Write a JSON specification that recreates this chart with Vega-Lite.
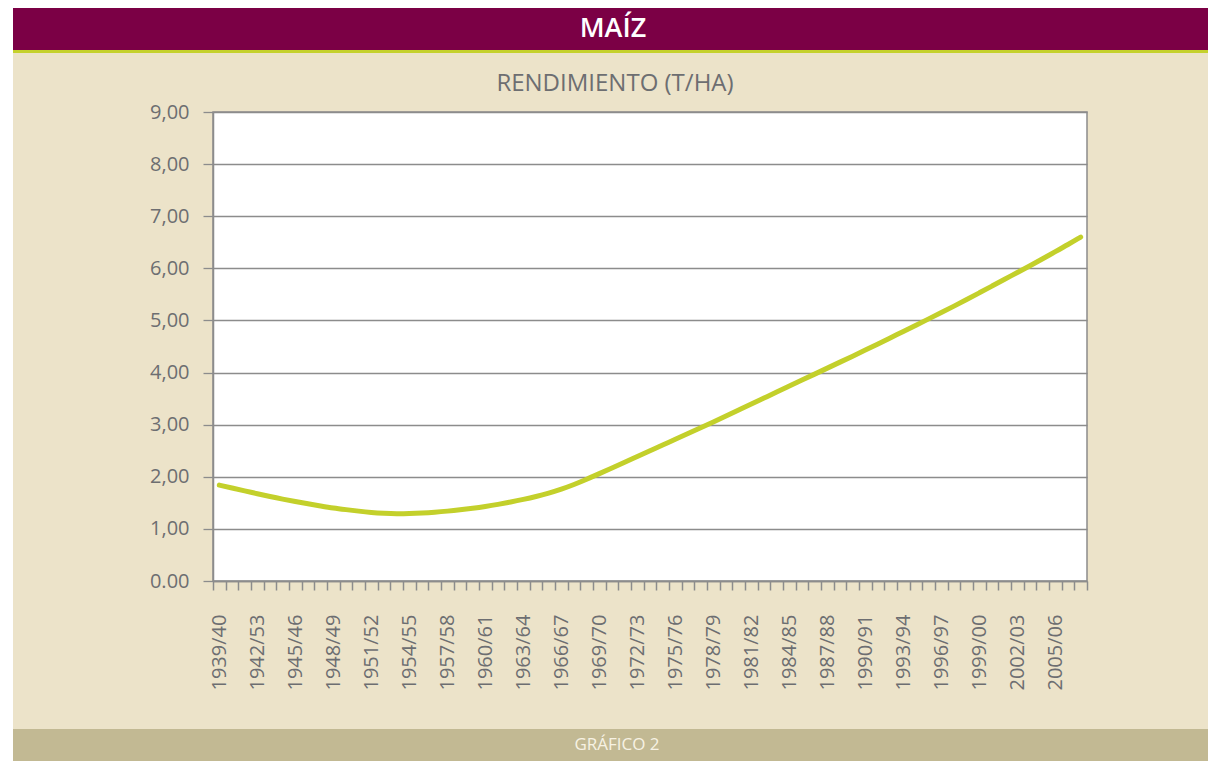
{
  "$schema": "https://vega.github.io/schema/vega-lite/v6.json",
  "background": "#ece3c9",
  "padding": 0,
  "columns": 3,
  "spacing": 0,
  "bounds": "flush",
  "align": "each",
  "config": {
    "view": {"stroke": null},
    "concat": {"spacing": 0},
    "text": {"font": "Open Sans"}
  },
  "datasets": {
    "maiz": [
      {"campana": "1939/40", "rendimiento": 1.84},
      {"campana": "1940/41", "rendimiento": 1.785},
      {"campana": "1941/42", "rendimiento": 1.73},
      {"campana": "1942/53", "rendimiento": 1.675},
      {"campana": "1943/44", "rendimiento": 1.62},
      {"campana": "1944/45", "rendimiento": 1.57},
      {"campana": "1945/46", "rendimiento": 1.525},
      {"campana": "1946/47", "rendimiento": 1.48},
      {"campana": "1947/48", "rendimiento": 1.44},
      {"campana": "1948/49", "rendimiento": 1.40},
      {"campana": "1949/50", "rendimiento": 1.37},
      {"campana": "1950/51", "rendimiento": 1.34},
      {"campana": "1951/52", "rendimiento": 1.315},
      {"campana": "1952/53", "rendimiento": 1.30},
      {"campana": "1953/54", "rendimiento": 1.29},
      {"campana": "1954/55", "rendimiento": 1.295},
      {"campana": "1955/56", "rendimiento": 1.305},
      {"campana": "1956/57", "rendimiento": 1.32},
      {"campana": "1957/58", "rendimiento": 1.34},
      {"campana": "1958/59", "rendimiento": 1.365},
      {"campana": "1959/60", "rendimiento": 1.395},
      {"campana": "1960/61", "rendimiento": 1.43},
      {"campana": "1961/62", "rendimiento": 1.47},
      {"campana": "1962/63", "rendimiento": 1.515},
      {"campana": "1963/64", "rendimiento": 1.565},
      {"campana": "1964/65", "rendimiento": 1.62},
      {"campana": "1965/66", "rendimiento": 1.685},
      {"campana": "1966/67", "rendimiento": 1.76},
      {"campana": "1967/68", "rendimiento": 1.85},
      {"campana": "1968/69", "rendimiento": 1.95},
      {"campana": "1969/70", "rendimiento": 2.06},
      {"campana": "1970/71", "rendimiento": 2.17},
      {"campana": "1971/72", "rendimiento": 2.28},
      {"campana": "1972/73", "rendimiento": 2.39},
      {"campana": "1973/74", "rendimiento": 2.50},
      {"campana": "1974/75", "rendimiento": 2.61},
      {"campana": "1975/76", "rendimiento": 2.72},
      {"campana": "1976/77", "rendimiento": 2.83},
      {"campana": "1977/78", "rendimiento": 2.94},
      {"campana": "1978/79", "rendimiento": 3.05},
      {"campana": "1979/80", "rendimiento": 3.165},
      {"campana": "1980/81", "rendimiento": 3.28},
      {"campana": "1981/82", "rendimiento": 3.395},
      {"campana": "1982/83", "rendimiento": 3.51},
      {"campana": "1983/84", "rendimiento": 3.625},
      {"campana": "1984/85", "rendimiento": 3.74},
      {"campana": "1985/86", "rendimiento": 3.855},
      {"campana": "1986/87", "rendimiento": 3.97},
      {"campana": "1987/88", "rendimiento": 4.085},
      {"campana": "1988/89", "rendimiento": 4.20},
      {"campana": "1989/90", "rendimiento": 4.315},
      {"campana": "1990/91", "rendimiento": 4.43},
      {"campana": "1991/92", "rendimiento": 4.55},
      {"campana": "1992/93", "rendimiento": 4.67},
      {"campana": "1993/94", "rendimiento": 4.79},
      {"campana": "1994/95", "rendimiento": 4.91},
      {"campana": "1995/96", "rendimiento": 5.03},
      {"campana": "1996/97", "rendimiento": 5.15},
      {"campana": "1997/98", "rendimiento": 5.275},
      {"campana": "1998/99", "rendimiento": 5.40},
      {"campana": "1999/00", "rendimiento": 5.53},
      {"campana": "2000/01", "rendimiento": 5.66},
      {"campana": "2001/02", "rendimiento": 5.79},
      {"campana": "2002/03", "rendimiento": 5.92},
      {"campana": "2003/04", "rendimiento": 6.05},
      {"campana": "2004/05", "rendimiento": 6.185},
      {"campana": "2005/06", "rendimiento": 6.32},
      {"campana": "2006/07", "rendimiento": 6.455},
      {"campana": "2007/08", "rendimiento": 6.60}
    ],
    "cabecera": [{"texto": "MAÍZ"}],
    "titulo": [{"texto": "RENDIMIENTO (T/HA)"}],
    "pie": [{"texto": "GRÁFICO 2"}],
    "vacio": [{"texto": ""}]
  },
  "concat": [
    {"width": 13, "height": 8, "view": {"fill": "#ffffff", "stroke": null}, "data": {"name": "vacio"}, "mark": {"type": "text", "fontSize": 0}, "encoding": {"text": {"field": "texto"}}},
    {"width": 200, "height": 8, "view": {"fill": "#ffffff", "stroke": null}, "data": {"name": "vacio"}, "mark": {"type": "text", "fontSize": 0}, "encoding": {"text": {"field": "texto"}}},
    {"width": 995, "height": 8, "view": {"fill": "#ffffff", "stroke": null}, "data": {"name": "vacio"}, "mark": {"type": "text", "fontSize": 0}, "encoding": {"text": {"field": "texto"}}},

    {"width": 13, "height": 42, "view": {"fill": "#ffffff", "stroke": null}, "data": {"name": "vacio"}, "mark": {"type": "text", "fontSize": 0}, "encoding": {"text": {"field": "texto"}}},
    {"width": 200, "height": 42, "view": {"fill": "#7b0045", "stroke": null}, "data": {"name": "vacio"}, "mark": {"type": "text", "fontSize": 0}, "encoding": {"text": {"field": "texto"}}},
    {
      "width": 995,
      "height": 42,
      "view": {"fill": "#7b0045", "stroke": null},
      "data": {"name": "cabecera"},
      "mark": {"type": "text", "align": "center", "baseline": "middle", "font": "Open Sans", "fontSize": 27, "fontWeight": 600, "color": "#ffffff"},
      "encoding": {
        "x": {"field": "texto", "type": "nominal", "axis": null, "scale": {"type": "point", "align": 0.402}},
        "y": {"field": "texto", "type": "nominal", "axis": null},
        "text": {"field": "texto"}
      }
    },

    {"width": 13, "height": 3, "view": {"fill": "#ffffff", "stroke": null}, "data": {"name": "vacio"}, "mark": {"type": "text", "fontSize": 0}, "encoding": {"text": {"field": "texto"}}},
    {"width": 200, "height": 3, "view": {"fill": "#c5d12c", "stroke": null}, "data": {"name": "vacio"}, "mark": {"type": "text", "fontSize": 0}, "encoding": {"text": {"field": "texto"}}},
    {"width": 995, "height": 3, "view": {"fill": "#c5d12c", "stroke": null}, "data": {"name": "vacio"}, "mark": {"type": "text", "fontSize": 0}, "encoding": {"text": {"field": "texto"}}},

    {"width": 13, "height": 59, "view": {"fill": "#ffffff", "stroke": null}, "data": {"name": "vacio"}, "mark": {"type": "text", "fontSize": 0}, "encoding": {"text": {"field": "texto"}}},
    {"width": 200, "height": 59, "data": {"name": "vacio"}, "mark": {"type": "text", "fontSize": 0}, "encoding": {"text": {"field": "texto"}}},
    {
      "width": 995,
      "height": 59,
      "data": {"name": "titulo"},
      "mark": {"type": "text", "align": "center", "baseline": "middle", "font": "Open Sans", "fontSize": 24, "color": "#6d6e71"},
      "encoding": {
        "x": {"field": "texto", "type": "nominal", "axis": null, "scale": {"type": "point", "align": 0.404}},
        "y": {"field": "texto", "type": "nominal", "axis": null, "scale": {"type": "point", "align": 0.52}},
        "text": {"field": "texto"}
      }
    },

    {"width": 13, "height": 469, "view": {"fill": "#ffffff", "stroke": null}, "data": {"name": "vacio"}, "mark": {"type": "text", "fontSize": 0}, "encoding": {"text": {"field": "texto"}}},
    {"width": 200, "height": 469, "data": {"name": "vacio"}, "mark": {"type": "text", "fontSize": 0}, "encoding": {"text": {"field": "texto"}}},
    {
      "width": 874,
      "height": 469,
      "view": {"fill": "#ffffff", "stroke": "#8c8c8c", "strokeWidth": 1.5},
      "data": {"name": "maiz"},
      "mark": {"type": "line", "interpolate": "basis", "color": "#c3d02b", "strokeWidth": 5, "strokeCap": "round"},
      "encoding": {
        "x": {
          "field": "campana",
          "type": "ordinal",
          "sort": null,
          "bandPosition": 0.5,
          "scale": {"type": "band", "paddingInner": 0, "paddingOuter": 0},
          "axis": {
            "title": null,
            "tickBand": "extent",
            "grid": false,
            "labelAngle": -90,
            "labelAlign": "left",
            "labelBaseline": "middle",
            "labelPadding": 100,
            "labelOverlap": false,
            "labelFont": "Open Sans",
            "labelFontSize": 20,
            "labelColor": "#6d6e71",
            "labelExpr": "(toNumber(substring(datum.value, 0, 4)) - 1939) % 3 === 0 ? datum.value : ''",
            "tickSize": 9,
            "tickColor": "#8c8c8c",
            "tickWidth": 1.5,
            "domainColor": "#8c8c8c",
            "domainWidth": 1.5
          }
        },
        "y": {
          "field": "rendimiento",
          "type": "quantitative",
          "scale": {"domain": [0, 9], "nice": false},
          "axis": {
            "title": null,
            "values": [0, 1, 2, 3, 4, 5, 6, 7, 8, 9],
            "grid": true,
            "gridColor": "#8c8c8c",
            "gridWidth": 1.3,
            "domainColor": "#8c8c8c",
            "domainWidth": 1.5,
            "tickColor": "#8c8c8c",
            "tickWidth": 1.3,
            "tickSize": 10,
            "labelPadding": 14,
            "labelFont": "Open Sans",
            "labelFontSize": 20,
            "labelColor": "#6d6e71",
            "labelExpr": "datum.value == 0 ? '0.00' : replace(format(datum.value, '.2f'), '.', ',')"
          }
        }
      }
    },

    {"width": 13, "height": 148, "view": {"fill": "#ffffff", "stroke": null}, "data": {"name": "vacio"}, "mark": {"type": "text", "fontSize": 0}, "encoding": {"text": {"field": "texto"}}},
    {"width": 200, "height": 148, "data": {"name": "vacio"}, "mark": {"type": "text", "fontSize": 0}, "encoding": {"text": {"field": "texto"}}},
    {"width": 995, "height": 148, "data": {"name": "vacio"}, "mark": {"type": "text", "fontSize": 0}, "encoding": {"text": {"field": "texto"}}},

    {"width": 13, "height": 32, "view": {"fill": "#ffffff", "stroke": null}, "data": {"name": "vacio"}, "mark": {"type": "text", "fontSize": 0}, "encoding": {"text": {"field": "texto"}}},
    {"width": 200, "height": 32, "view": {"fill": "#c2b993", "stroke": null}, "data": {"name": "vacio"}, "mark": {"type": "text", "fontSize": 0}, "encoding": {"text": {"field": "texto"}}},
    {
      "width": 995,
      "height": 32,
      "view": {"fill": "#c2b993", "stroke": null},
      "data": {"name": "pie"},
      "mark": {"type": "text", "align": "center", "baseline": "middle", "font": "Open Sans", "fontSize": 17, "color": "#f7f2e3"},
      "encoding": {
        "x": {"field": "texto", "type": "nominal", "axis": null, "scale": {"type": "point", "align": 0.406}},
        "y": {"field": "texto", "type": "nominal", "axis": null},
        "text": {"field": "texto"}
      }
    }
  ]
}
